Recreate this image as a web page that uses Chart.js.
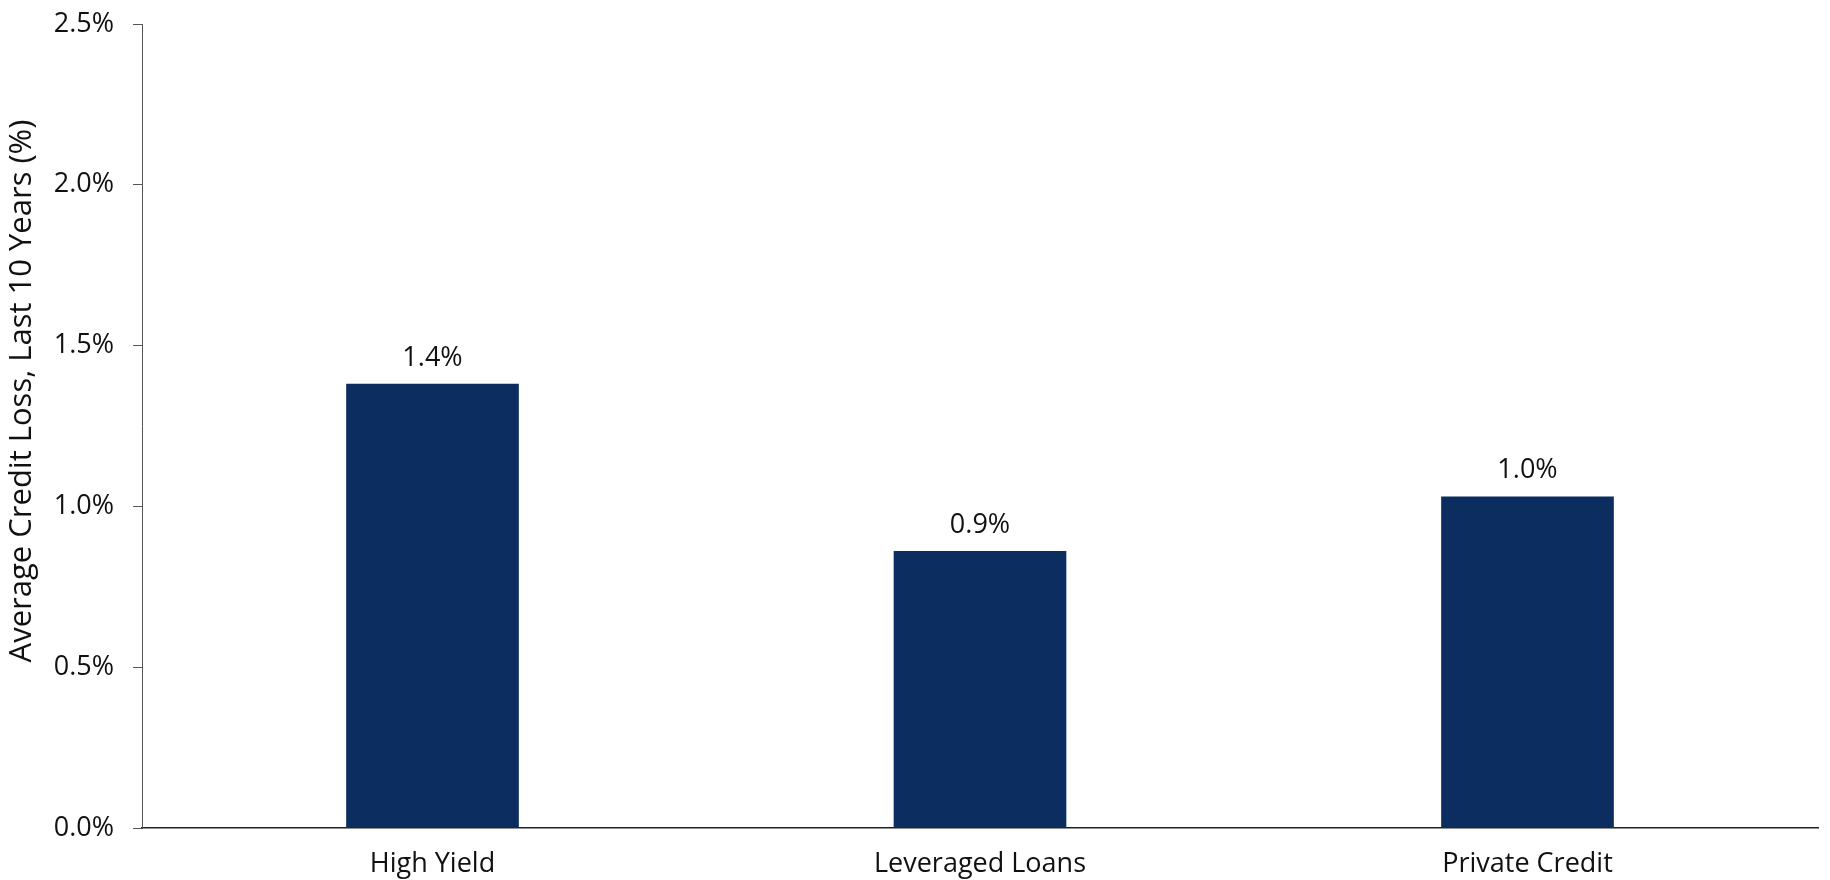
<!DOCTYPE html>
<html>
<head>
<meta charset="utf-8">
<script src="https://cdn.jsdelivr.net/npm/chart.js@4.4.1/dist/chart.umd.min.js"></script>
<style>
  html, body { margin: 0; padding: 0; background: #fff; }
  #wrap { width: 1830px; height: 880px; }
</style>
</head>
<body>
<div id="wrap"><canvas id="lossChart" width="1830" height="880"></canvas></div>
<script>
const categories = ["High Yield", "Leveraged Loans", "Private Credit"];
const creditLoss = [1.38, 0.86, 1.03];
const yTicks = [0, 0.5, 1.0, 1.5, 2.0, 2.5];
const yTitle = "Average Credit Loss, Last 10 Years (%)";

const FONT = "'Open Sans', 'Noto Sans', sans-serif";
const NAVY = "#0b2d5f";

// value labels above each bar
const barLabels = {
  id: "barLabels",
  afterDatasetsDraw(chart) {
    const ctx = chart.ctx;
    const meta = chart.getDatasetMeta(0);
    ctx.save();
    ctx.font = "27px " + FONT;
    ctx.fillStyle = "#111";
    ctx.textAlign = "center";
    ctx.textBaseline = "middle";
    meta.data.forEach((bar, i) => {
      ctx.fillText(creditLoss[i].toFixed(1) + "%", bar.x, bar.y - 26);
    });
    ctx.restore();
  }
};

// rotated axis title, sits a bit above the middle like the original
const axisTitle = {
  id: "axisTitle",
  afterDraw(chart) {
    const ctx = chart.ctx;
    ctx.save();
    ctx.translate(22, 391);
    ctx.rotate(-Math.PI / 2);
    ctx.font = "31px " + FONT;
    ctx.fillStyle = "#111";
    ctx.textAlign = "center";
    ctx.textBaseline = "middle";
    ctx.fillText(yTitle, 0, 0);
    ctx.restore();
  }
};

function lossChart() {
  const ctx = document.getElementById("lossChart").getContext("2d");

  const data = {
    datasets: [
      {
        label: "Average Credit Loss",
        data: categories.map((c, i) => ({ x: i, y: creditLoss[i] })),
        backgroundColor: NAVY,
        borderWidth: 0,
        barThickness: 172,
      },
    ],
  };

  const options = {
    responsive: false,
    animation: false,
    devicePixelRatio: 1,
    layout: { padding: { top: 24, right: 12, left: 0, bottom: 0 } },
    plugins: {
      legend: { display: false },
      tooltip: { enabled: false },
    },
    scales: {
      x: {
        type: "linear",
        offset: false,
        min: -0.5306,
        max: 2.5306,
        afterBuildTicks: (scale) => {
          scale.ticks = categories.map((c, i) => ({ value: i }));
        },
        afterFit: (scale) => {
          scale.height = 52;
          scale.paddingLeft = 0;
          scale.paddingRight = 0;
        },
        grid: { display: false, drawTicks: false },
        border: { display: true, color: "#222", width: 1.5 },
        ticks: {
          callback: (v) => categories[v],
          color: "#111",
          padding: 20,
          maxRotation: 0,
          autoSkip: false,
          font: { family: FONT, size: 27 },
        },
      },
      y: {
        min: 0,
        max: 2.5,
        afterBuildTicks: (scale) => {
          scale.ticks = yTicks.map((v) => ({ value: v }));
        },
        afterFit: (scale) => {
          scale.width = 142;
          scale.paddingTop = 0;
          scale.paddingBottom = 0;
        },
        grid: {
          drawOnChartArea: false,
          drawTicks: true,
          tickLength: 9,
          color: "#555",
        },
        border: { display: true, color: "#555", width: 1 },
        ticks: {
          callback: (v) => v.toFixed(1) + "%",
          color: "#111",
          padding: 19,
          font: { family: FONT, size: 27 },
        },
      },
    },
  };

  new Chart(ctx, {
    type: "bar",
    data: data,
    options: options,
    plugins: [barLabels, axisTitle],
  });
}

lossChart();
</script>
</body>
</html>
